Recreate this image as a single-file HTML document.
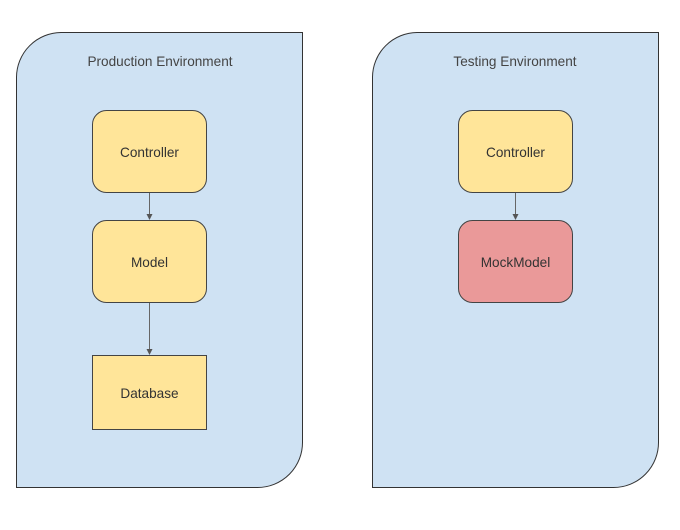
<!DOCTYPE html>
<html><head><meta charset="utf-8"><style>html,body{margin:0;padding:0;background:#fff}svg{display:block}</style></head>
<body>
<svg width="680" height="530" viewBox="0 0 680 530" xmlns="http://www.w3.org/2000/svg" font-family="Liberation Sans, Arial, sans-serif" font-size="13.6" fill="#333">
<defs><marker id="a" markerWidth="6" markerHeight="6" refX="3" refY="3" orient="auto"><path d="M0,0 L6,3 L0,6 z" fill="#555"/></marker></defs>
<path d="M61,32.5 H302.5 V442 A45,45 0 0 1 257.5,487.5 H16.5 V77 A45,45 0 0 1 61,32.5 Z" fill="#cfe2f3" stroke="#333" stroke-width="1"/>
<path d="M417,32.5 H658.5 V442 A45,45 0 0 1 613.5,487.5 H372.5 V77 A45,45 0 0 1 417,32.5 Z" fill="#cfe2f3" stroke="#333" stroke-width="1"/>
<text x="160" y="66" text-anchor="middle" fill="#444">Production Environment</text>
<text x="515" y="66" text-anchor="middle" fill="#444">Testing Environment</text>
<rect x="92.5" y="110.5" width="114" height="82" rx="14" fill="#ffe599" stroke="#444"/>
<rect x="92.5" y="220.5" width="114" height="82" rx="14" fill="#ffe599" stroke="#444"/>
<rect x="92.5" y="355.5" width="114" height="74" fill="#ffe599" stroke="#444"/>
<rect x="458.5" y="110.5" width="114" height="82" rx="14" fill="#ffe599" stroke="#444"/>
<rect x="458.5" y="220.5" width="114" height="82" rx="14" fill="#ea9999" stroke="#444"/>
<line x1="149.5" y1="193" x2="149.5" y2="217" stroke="#666" marker-end="url(#a)"/>
<line x1="149.5" y1="303" x2="149.5" y2="352" stroke="#666" marker-end="url(#a)"/>
<line x1="515.5" y1="193" x2="515.5" y2="217" stroke="#666" marker-end="url(#a)"/>
<text x="149.5" y="157" text-anchor="middle">Controller</text>
<text x="149.5" y="267" text-anchor="middle">Model</text>
<text x="149.5" y="398" text-anchor="middle">Database</text>
<text x="515.5" y="157" text-anchor="middle">Controller</text>
<text x="515.5" y="267" text-anchor="middle">MockModel</text>
</svg>
</body></html>
